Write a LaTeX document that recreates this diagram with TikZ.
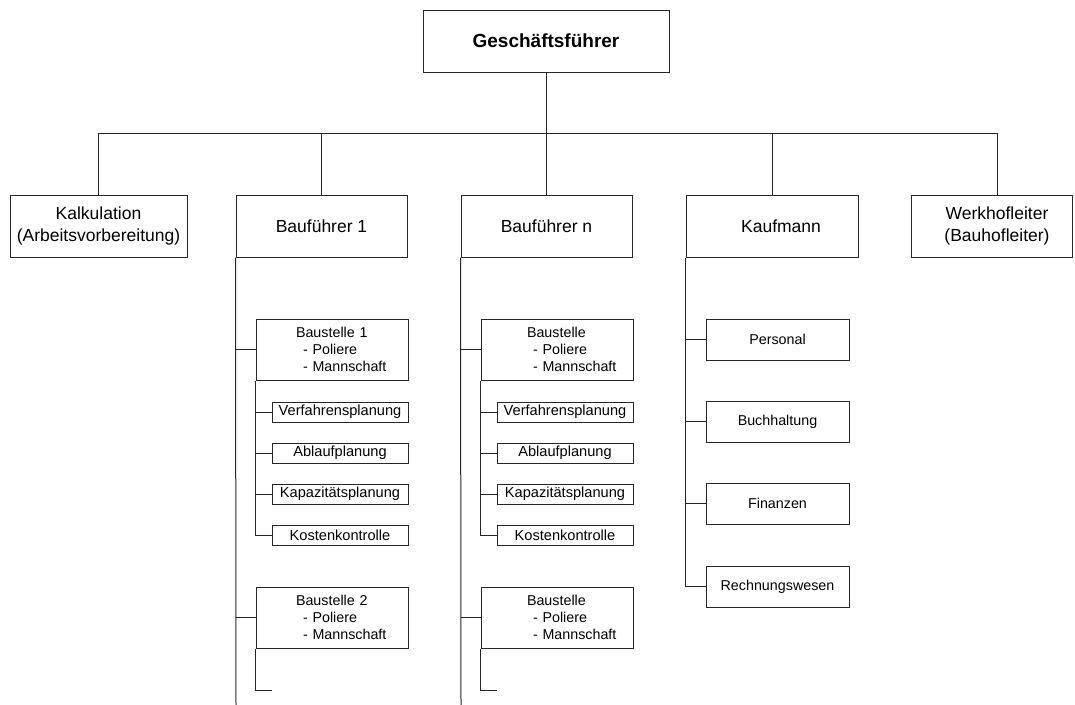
\documentclass[tikz,border=0pt]{standalone}
\usepackage{fontspec}
\setmainfont{Liberation Sans}
\begin{document}
\begin{tikzpicture}[x=1pt,y=-1pt,line width=1pt,
  box/.style={draw=black!85,fill=white,inner sep=0pt,align=center,
    minimum height=62,font=\fontsize{17.5}{21.5}\selectfont},
  site/.style={draw=black!85,fill=white,inner sep=0pt,align=left,
    text width=152,minimum height=61,font=\fontsize{14.3}{16.7}\selectfont},
  task/.style={draw=black!85,fill=white,inner sep=0pt,align=center,
    minimum width=136,minimum height=20,font=\fontsize{14.6}{17}\selectfont},
  dept/.style={draw=black!85,fill=white,inner sep=0pt,align=center,
    minimum width=143,minimum height=41,font=\fontsize{14.3}{16.7}\selectfont},
  link/.style={draw=black!85,line width=1pt}]
\useasboundingbox (0,0) rectangle (1075,704);

% top level
\node[box,minimum width=246,font=\bfseries\fontsize{19}{23}\selectfont] (gf) at (546,41) {Geschäftsführer};

% second level
\node[box,minimum width=177] (kalk) at (98.5,226) {Kalkulation\\(Arbeitsvorbereitung)};
\node[box,minimum width=171] (bf1) at (321.5,226) {Bauführer 1};
\node[box,minimum width=171] (bfn) at (546.5,226) {Bauführer n};
\node[box,minimum width=172] (kauf) at (772,226) {\hspace*{18pt}Kaufmann};
\node[box,minimum width=161] (werk) at (991.5,226) {\hspace*{11pt}Werkhofleiter\\\hspace*{11pt}(Bauhofleiter)};

% bus between the levels
\coordinate (bus) at (546,133);
\coordinate (werkup) at (997,195);
\draw[link] (gf.south) -- (bus);
\draw[link] (bus -| kalk.north) -- (bus -| werkup);
\foreach \n in {kalk,bf1,bfn,kauf}
  \draw[link] (\n.north) -- (bus -| \n.north);
\draw[link] (werkup) -- (bus -| werkup);

% ---- Bauführer 1 ----
\coordinate (bf1end) at (236,706);
\draw[link] (bf1.south west) -- (bf1end);
\node[site] (s11) at (332,349.5) {\hspace*{40pt}Baustelle 1\\\hspace*{47pt}- Poliere\\\hspace*{47pt}- Mannschaft};
\node[task] (v1) at (340,412) {Verfahrensplanung};
\node[task] (a1) at (340,453) {Ablaufplanung};
\node[task] (c1) at (340,494) {Kapazitätsplanung};
\node[task] (k1) at (340,535.5) {Kostenkontrolle};
\draw[link] (s11.west -| bf1end) -- (s11.west);
\draw[link] (s11.south west) -- (s11.south west |- k1.west) -- (k1.west);
\foreach \t in {v1,a1,c1}
  \draw[link] (\t.west -| s11.south west) -- (\t.west);
\node[site] (s12) at (332,617.5) {\hspace*{40pt}Baustelle 2\\\hspace*{47pt}- Poliere\\\hspace*{47pt}- Mannschaft};
\coordinate (t12) at (272,690);
\draw[link] (s12.west -| bf1end) -- (s12.west);
\draw[link] (s12.south west) -- (s12.south west |- t12) -- (t12);

% ---- Bauführer n ----
\coordinate (bfnend) at (461,706);
\draw[link] (bfn.south west) -- (bfnend);
\node[site] (sn1) at (557,349.5) {\hspace*{46pt}Baustelle\\\hspace*{52pt}- Poliere\\\hspace*{52pt}- Mannschaft};
\node[task] (vn) at (565,412) {Verfahrensplanung};
\node[task] (an) at (565,453) {Ablaufplanung};
\node[task] (cn) at (565,494) {Kapazitätsplanung};
\node[task] (kn) at (565,535.5) {Kostenkontrolle};
\draw[link] (sn1.west -| bfnend) -- (sn1.west);
\draw[link] (sn1.south west) -- (sn1.south west |- kn.west) -- (kn.west);
\foreach \t in {vn,an,cn}
  \draw[link] (\t.west -| sn1.south west) -- (\t.west);
\node[site] (sn2) at (557,617.5) {\hspace*{46pt}Baustelle\\\hspace*{52pt}- Poliere\\\hspace*{52pt}- Mannschaft};
\coordinate (tn2) at (497,690);
\draw[link] (sn2.west -| bfnend) -- (sn2.west);
\draw[link] (sn2.south west) -- (sn2.south west |- tn2) -- (tn2);

% ---- Kaufmann ----
\node[dept] (pers) at (777.5,339.5) {Personal};
\node[dept] (buch) at (777.5,421.5) {Buchhaltung};
\node[dept] (fin) at (777.5,503.5) {Finanzen};
\node[dept] (rech) at (777.5,586.5) {Rechnungswesen};
\draw[link] (kauf.south west) -- (kauf.south west |- rech.west) -- (rech.west);
\foreach \d in {pers,buch,fin}
  \draw[link] (\d.west -| kauf.south west) -- (\d.west);
\end{tikzpicture}
\end{document}
